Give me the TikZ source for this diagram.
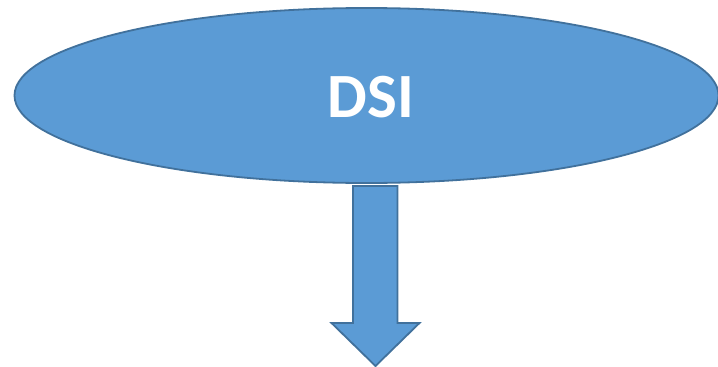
\documentclass[tikz,border=0pt]{standalone}
\usepackage{fontspec}
\setmainfont{Carlito}
\usetikzlibrary{shapes.geometric}
\definecolor{dsiblue}{HTML}{5B9BD5}
\definecolor{dsiedge}{HTML}{41719C}

\begin{document}
\begin{tikzpicture}[x=1pt, y=-1pt]
		%%%%% START %%%%%
		\useasboundingbox (0, 0) rectangle (718, 367);
		
		\coordinate (shaftL) at (353, 186);
		\coordinate (shaftR) at (397.5, 186);
		\draw[line width=1.8pt, draw=dsiedge, fill=dsiblue, line join=miter]
			(shaftL) -- (353, 323) -- (331.5, 323) -- (375.5, 366) -- (419.5, 323)
			-- (397.5, 323) -- (shaftR) -- cycle;
		
		\node[ellipse, draw=dsiedge, fill=dsiblue, line width=1.8pt,
			minimum width=704pt, minimum height=175pt, inner sep=0pt]
			(dsi) at (366.5, 95.5) {};
		\node[text=white, font=\fontsize{63}{63}\selectfont\bfseries]
			(dsitext) at (371, 97) {DSI};
		%%%%% END %%%%%
	\end{tikzpicture}
\end{document}
